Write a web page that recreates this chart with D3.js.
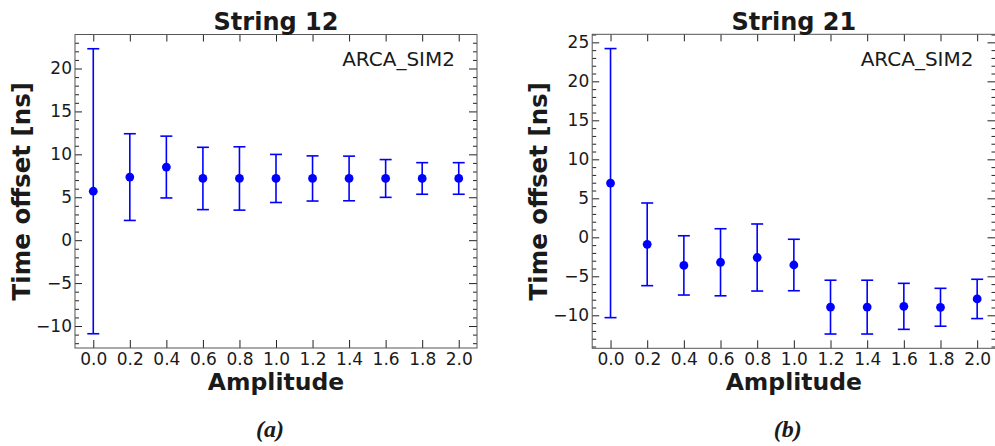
<!DOCTYPE html>
<html lang="en">
<head>
<meta charset="UTF-8">
<title>Time offset vs amplitude</title>
<script src="https://d3js.org/d3.v7.min.js"></script>
<style>
  body { margin: 0; background: white; }
  svg text { font-family: 'DejaVu Sans', sans-serif; fill: #1a1a1a; }
  svg text.caption { font-family: 'Liberation Serif', serif; font-weight: bold; font-style: italic; }
</style>
</head>
<body>
<div id="chart"></div>
<script>
// amplitudes on the x axis
const amplitudes = [0.0, 0.2, 0.4, 0.6, 0.8, 1.0, 1.2, 1.4, 1.6, 1.8, 2.0];
const xTicks = [0.0, 0.2, 0.4, 0.6, 0.8, 1.0, 1.2, 1.4, 1.6, 1.8, 2.0];

// String 12 : time offset and symmetric error [ns]
const s12Offset = [5.7, 7.35, 8.52, 7.19, 7.19, 7.19, 7.19, 7.19, 7.19, 7.19, 7.19];
const s12Error  = [16.6, 5.05, 3.6, 3.63, 3.69, 2.8, 2.63, 2.6, 2.2, 1.84, 1.84];
const s12Ticks  = [-10, -5, 0, 5, 10, 15, 20];

// String 21
const s21Offset = [6.95, -0.9, -3.6, -3.2, -2.59, -3.55, -8.95, -8.95, -8.85, -8.97, -7.9];
const s21Error  = [17.25, 5.3, 3.8, 4.3, 4.3, 3.3, 3.45, 3.45, 2.95, 2.43, 2.52];
const s21Ticks  = [-10, -5, 0, 5, 10, 15, 20, 25];

const W = 995, H = 446;
const blue = "#0000ff";
const axisCol = "#555";

const svg = d3.select("#chart").append("svg")
    .attr("width", W).attr("height", H);

function panel(box, title, offsets, errors, yTicks, caption) {
    const g = svg.append("g");
    // matplotlib style 5% margins
    const lo = d3.min(offsets.map((d, i) => d - errors[i]));
    const hi = d3.max(offsets.map((d, i) => d + errors[i]));
    const pad = (hi - lo) * 0.05;

    const x = d3.scaleLinear().domain([-0.1, 2.1]).range([box.left, box.right]);
    const y = d3.scaleLinear().domain([lo - pad, hi + pad]).range([box.bottom, box.top]);

    const fmtX = d3.format(".1f");
    const fmtY = d3.format("d");
    const minor = d3.range(Math.ceil(lo - pad), Math.floor(hi + pad) + 1).filter(v => v % 5 !== 0);

    // bottom / top axes (ticks inward)
    g.append("g").attr("transform", `translate(0,${box.bottom})`)
        .call(d3.axisBottom(x).tickValues(xTicks).tickFormat(fmtX).tickSize(-8).tickPadding(16.5))
        .call(a => a.select(".domain").remove())
        .call(a => a.selectAll("text").attr("font-size", 17).attr("dy", 0));
    g.append("g").attr("transform", `translate(0,${box.top})`)
        .call(d3.axisTop(x).tickValues(xTicks).tickFormat("").tickSize(-7))
        .call(a => a.select(".domain").remove());

    // left axis
    g.append("g").attr("transform", `translate(${box.left},0)`)
        .call(d3.axisLeft(y).tickValues(yTicks).tickFormat(fmtY).tickSize(-7).tickPadding(3))
        .call(a => a.select(".domain").remove())
        .call(a => a.selectAll("text").attr("font-size", 17));
    g.append("g").attr("transform", `translate(${box.left},0)`)
        .call(d3.axisLeft(y).tickValues(minor).tickFormat("").tickSize(-4))
        .call(a => a.select(".domain").remove());
    // right axis
    g.append("g").attr("transform", `translate(${box.right},0)`)
        .call(d3.axisRight(y).tickValues(yTicks).tickFormat("").tickSize(-8))
        .call(a => a.select(".domain").remove());
    g.append("g").attr("transform", `translate(${box.right},0)`)
        .call(d3.axisRight(y).tickValues(minor).tickFormat("").tickSize(-4))
        .call(a => a.select(".domain").remove());

    g.selectAll(".tick line").attr("stroke", "#222").attr("stroke-width", 1);

    // frame
    g.append("rect")
        .attr("x", box.left).attr("y", box.top)
        .attr("width", box.right - box.left).attr("height", box.bottom - box.top)
        .attr("fill", "none").attr("stroke", axisCol).attr("stroke-width", 1);

    const pts = amplitudes.map((a, i) => ({a: a, v: offsets[i], e: errors[i]}));

    // error bars
    const eb = g.append("g").attr("stroke", blue).attr("stroke-width", 1.6);
    eb.selectAll("line.bar").data(pts).join("line").attr("class", "bar")
        .attr("x1", d => x(d.a)).attr("x2", d => x(d.a))
        .attr("y1", d => y(d.v - d.e)).attr("y2", d => y(d.v + d.e));
    eb.selectAll("line.capTop").data(pts).join("line").attr("class", "capTop")
        .attr("x1", d => x(d.a) - 6).attr("x2", d => x(d.a) + 6)
        .attr("y1", d => y(d.v + d.e)).attr("y2", d => y(d.v + d.e));
    eb.selectAll("line.capBot").data(pts).join("line").attr("class", "capBot")
        .attr("x1", d => x(d.a) - 6).attr("x2", d => x(d.a) + 6)
        .attr("y1", d => y(d.v - d.e)).attr("y2", d => y(d.v - d.e));

    g.append("g").selectAll("circle").data(pts).join("circle")
        .attr("cx", d => x(d.a)).attr("cy", d => y(d.v))
        .attr("r", 4.4).attr("fill", blue);

    const cx = (box.left + box.right) / 2;
    g.append("text").attr("x", cx).attr("y", 30)
        .attr("text-anchor", "middle").attr("font-size", 24).attr("font-weight", "bold")
        .text(title);
    g.append("text").attr("x", box.right - 22).attr("y", 66)
        .attr("text-anchor", "end").attr("font-size", 20)
        .text("ARCA_SIM2");
    g.append("text").attr("x", cx).attr("y", 390)
        .attr("text-anchor", "middle").attr("font-size", 23.5).attr("font-weight", "bold")
        .text("Amplitude");
    g.append("text")
        .attr("transform", `translate(${box.left - 45},${(box.top + box.bottom) / 2}) rotate(-90)`)
        .attr("text-anchor", "middle").attr("font-size", 24.5).attr("font-weight", "bold")
        .text("Time offset [ns]");
    g.append("text").attr("class", "caption")
        .attr("x", cx - 6).attr("y", 437)
        .attr("text-anchor", "middle").attr("font-size", 24)
        .text(caption);
}

panel({left: 75, right: 477, top: 34.5, bottom: 348}, "String 12", s12Offset, s12Error, s12Ticks, "(a)");
panel({left: 592.2, right: 995.5, top: 34.3, bottom: 348.3}, "String 21", s21Offset, s21Error, s21Ticks, "(b)");
</script>
</body>
</html>
